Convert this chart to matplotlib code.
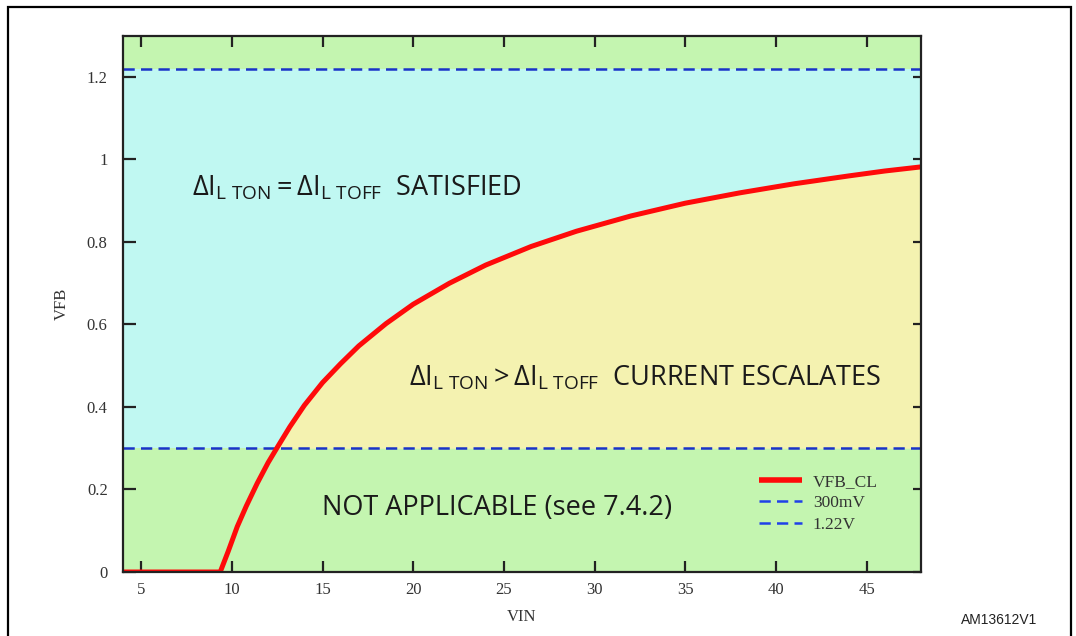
import matplotlib
matplotlib.use('Agg')
import matplotlib.pyplot as plt
from matplotlib.patches import Rectangle

# curve
vin = [4, 9.36, 9.8, 10.3, 10.8, 11.4, 12.0, 12.45, 13.2, 14.0, 15.0, 16.0,
       17.0, 18.5, 20.0, 22.0, 24.0, 26.5, 29.0, 32.0, 35.0, 38.0, 41.0,
       44.0, 46.0, 48.0]
vfb_cl = [0, 0, 0.05, 0.11, 0.16, 0.215, 0.265, 0.298, 0.352, 0.404, 0.459,
          0.505, 0.548, 0.602, 0.649, 0.70, 0.744, 0.789, 0.826, 0.863, 0.894,
          0.919, 0.941, 0.96, 0.972, 0.982]

low_limit = 0.3     # 300mV
high_limit = 1.22   # 1.22V

x_ticks = [5, 10, 15, 20, 25, 30, 35, 40, 45]
y_ticks = [0, 0.2, 0.4, 0.6, 0.8, 1.0, 1.2]
y_tick_labels = ['0', '0.2', '0.4', '0.6', '0.8', '1', '1.2']

green = '#c4f5b0'
cyan = '#c0f8f2'
yellow = '#f4f2b0'
blue = '#1a33c8'

plt.rcParams['mathtext.fontset'] = 'custom'
plt.rcParams['mathtext.rm'] = 'Open Sans'
plt.rcParams['mathtext.it'] = 'Open Sans'

fig = plt.figure(figsize=(10.76, 6.36), dpi=100)
ax = fig.add_axes([123 / 1076, 1 - 572 / 636, 798 / 1076, 536.3 / 636])

ax.set_xlim(4, 48)
ax.set_ylim(0, 1.3)

# background regions
ax.axhspan(0, low_limit, color=green, zorder=0, lw=0)
ax.axhspan(high_limit, 1.3, color=green, zorder=0, lw=0)
ax.axhspan(low_limit, high_limit, color=cyan, zorder=0, lw=0)
ax.fill_between(vin, low_limit, vfb_cl, where=[v >= low_limit for v in vfb_cl],
                interpolate=True, color=yellow, lw=0, zorder=1)

ax.plot(vin, vfb_cl, color='#ff0a0a', lw=3.6, zorder=4, label='VFB_CL',
        solid_capstyle='butt', solid_joinstyle='round')
ax.axhline(low_limit, color=blue, lw=1.8, ls=(0, (4.5, 2.5)), zorder=3, label='300mV')
ax.axhline(high_limit, color=blue, lw=1.8, ls=(0, (4.5, 2.5)), zorder=3, label='1.22V')

# region texts
txt = dict(family='Open Sans', fontsize=19.5, color='#1a1a1a', va='center', ha='left')
ax.text(7.8, 0.93, r'$\Delta I_{L\ TON} = \Delta I_{L\ TOFF}$  SATISFIED', **txt)
ax.text(19.75, 0.47, r'$\Delta I_{L\ TON} > \Delta I_{L\ TOFF}$  CURRENT ESCALATES', **txt)
ax.text(15.0, 0.155, 'NOT APPLICABLE (see 7.4.2)', **txt)

# ticks like the original plot
ax.set_xticks(x_ticks)
ax.set_yticks(y_ticks)
ax.set_yticklabels(y_tick_labels)
ax.tick_params(axis='both', direction='in', length=8, width=1.6, color='#222222',
               labelsize=12, labelcolor='#333333')
ax.tick_params(axis='x', top=True, pad=7)
ax.tick_params(axis='y', right=True, pad=11)
for tk in ax.yaxis.get_major_ticks():
    tk.tick1line.set_markersize(9)
    tk.tick2line.set_markersize(5.5)
for lab in ax.get_xticklabels() + ax.get_yticklabels():
    lab.set_family('Liberation Serif')
for sp in ax.spines.values():
    sp.set_linewidth(1.6)
    sp.set_color('#222222')
    sp.set_zorder(5)

ax.set_xlabel('VIN', family='Liberation Serif', fontsize=12, color='#333333', labelpad=8)
ax.set_ylabel('VFB', family='Liberation Serif', fontsize=12, color='#333333', labelpad=12)

leg = ax.legend(loc='upper left', bbox_to_anchor=(0.797, 0.183), frameon=False,
                borderaxespad=0, borderpad=0, handlelength=2.5, handletextpad=0.6,
                labelspacing=0.3, prop={'family': 'Liberation Serif', 'size': 12.5})
for t in leg.get_texts():
    t.set_color('#333333')
leg.get_lines()[0].set_linewidth(4)
for ln in leg.get_lines()[1:]:
    ln.set_color('#2040e8')
    ln.set_linewidth(1.8)

# frame around the whole figure
fig.add_artist(Rectangle((8 / 1076, -0.1), 1063 / 1076, 1.1 - 7 / 636,
                         transform=fig.transFigure, fill=False, lw=1.6,
                         edgecolor='black'))

fig.text(999 / 1076, 1 - 620 / 636, 'AM13612V1', family='Liberation Sans',
         fontsize=10, color='#222222', ha='center', va='center')

plt.savefig('out.png', dpi=100)
